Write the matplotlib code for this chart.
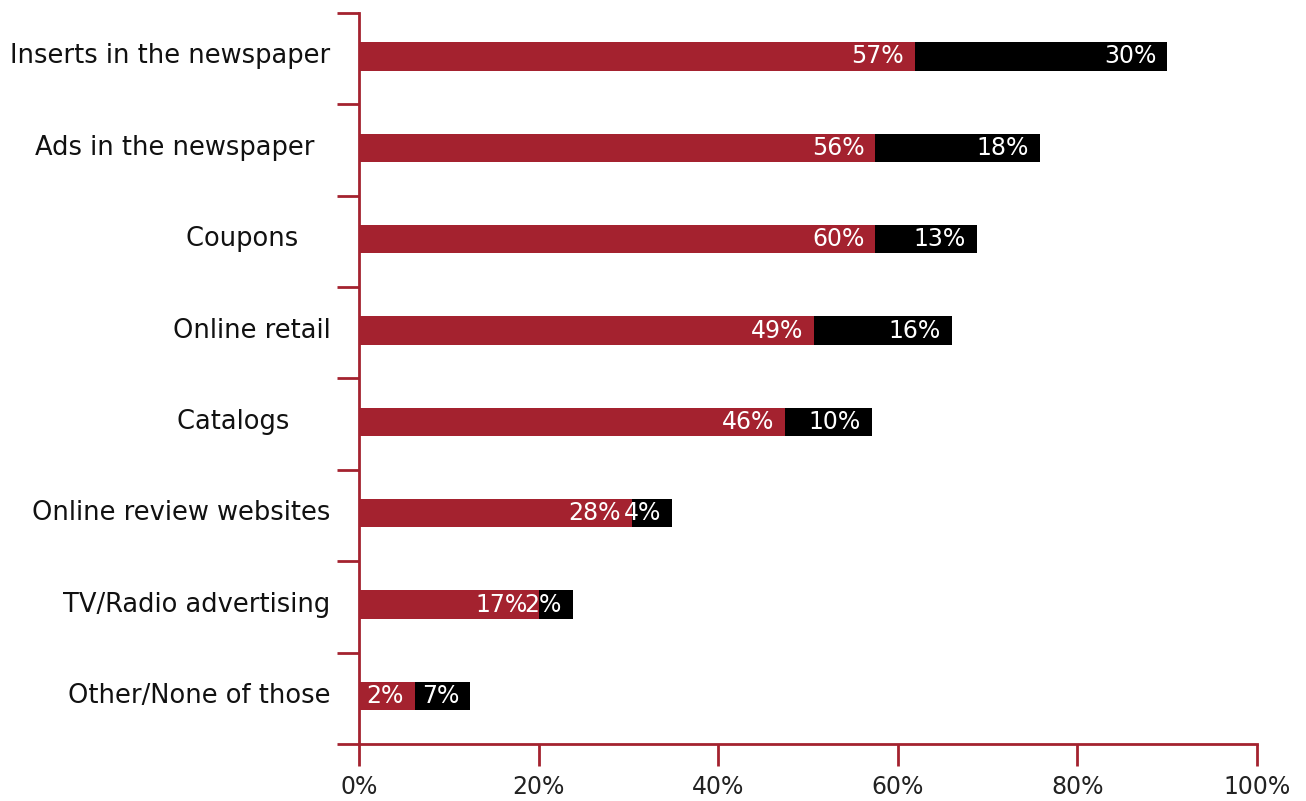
import matplotlib.pyplot as plt

categories = ["Inserts in the newspaper", "Ads in the newspaper  ", "Coupons    ",
              "Online retail", "Catalogs     ", "Online review websites",
              "TV/Radio advertising", "Other/None of those"]
# bar lengths as drawn (the printed labels don't match the drawn lengths)
red_len = [61.9, 57.5, 57.5, 50.7, 47.4, 30.4, 20.0, 6.2]
black_len = [28.1, 18.3, 11.3, 15.3, 9.7, 4.5, 3.8, 6.2]
red_lbl = ["57%", "56%", "60%", "49%", "46%", "28%", "17%", "2%"]
black_lbl = ["30%", "18%", "13%", "16%", "10%", "4%", "2%", "7%"]

red = "#a4222f"
plt.rcParams['font.family'] = ['DejaVu Sans']

fig = plt.figure(figsize=(13.06, 8.01), dpi=100)
ax = fig.add_axes([0.2749, 0.0712, 0.6876, 0.9126])

# bars sit a touch above the band centre in the original
ypos = [len(categories) - 1 - i + 0.025 for i in range(len(categories))]
ax.barh(ypos, red_len, height=0.31, color=red)
ax.barh(ypos, black_len, left=red_len, height=0.31, color="black")

for y, r, b, rl, bl in zip(ypos, red_len, black_len, red_lbl, black_lbl):
    ax.text(r - 1.2, y, rl, color="white", ha="right", va="center", fontsize=17)
    ax.text(r + b - 1.2, y, bl, color="white", ha="right", va="center", fontsize=17)

ax.set_xlim(0, 100)
ax.set_ylim(-0.5, 7.5)
ax.set_xticks([0, 20, 40, 60, 80, 100])
ax.set_xticklabels(["0%", "20%", "40%", "60%", "80%", "100%"], fontsize=17, color="#222222")
ax.set_yticks([i - 0.5 for i in range(9)])
ax.set_yticklabels([])
ax.tick_params(axis="both", direction="out", length=16, width=2, color=red)
ax.tick_params(axis="x", pad=6)

for y, c in zip(ypos, categories):
    ax.text(-3.2, y, c, ha="right", va="center", fontsize=18.5, color="#111111")

for s in ["top", "right"]:
    ax.spines[s].set_visible(False)
for s in ["left", "bottom"]:
    ax.spines[s].set_color(red)
    ax.spines[s].set_linewidth(2)

plt.savefig("out.png", dpi=100)
